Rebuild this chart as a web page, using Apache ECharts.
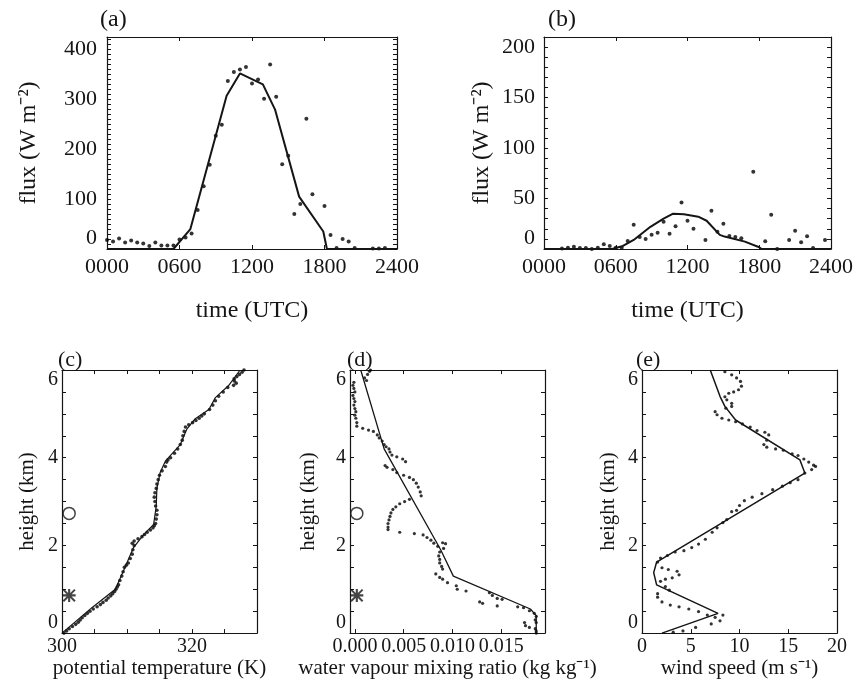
<!DOCTYPE html>
<html>
<head>
<meta charset="utf-8">
<script src="https://cdn.jsdelivr.net/npm/echarts@6/dist/echarts.min.js"></script>
<style>html,body{margin:0;background:#fff}#chart{width:856px;height:680px}</style>
</head>
<body>
<div id="chart"></div>
<script>
var FONT = 'Liberation Serif';
var INK = '#151515';

// (a) flux, observed (dots) and model (line); time in hours
var aTime = [0,0.5,1,1.5,2,2.5,3,3.5,4,4.5,5,5.5,6,6.5,7,7.5,8,8.5,9,9.5,10,10.5,11,11.5,12,12.5,13,13.5,14,14.5,15,15.5,16,16.5,17,18,18.5,19,19.5,20,20.5,22,22.5,23];
var aFlux = [18,15,21,13,17,13,11,6,13,7,7,7,19,23,31,78,126,169,227,249,337,355,360,365,332,340,301,370,305,170,187,70,90,261,110,86,28,2,20,15,2,1,1,2];
var aModelTime = [0,5.5,6.9,9.9,11,12.9,13.9,15.9,17.9,18.2,24];
var aModelFlux = [0,0,40,307,352,330,280,105,35,0,0];

// (b) flux, observed and model
var bTime = [1.5,2,2.5,3,3.5,4,4.5,5,5.5,6,6.5,7,7.5,8,8.5,9,9.5,10,10.5,11,11.5,12,12.5,13.5,14,14.5,15,15.5,16,16.5,17.5,18.5,19,19.5,20.5,21,21.5,22,22.5,23.5];
var bFlux = [0.5,1.3,2.3,1,1,0,1.3,4.6,3,1.3,1.3,8,24,12,10,14,16,27,15,22.5,46,28,20,9,38,17,25,13,12,10.6,76.5,7.6,34,0,9,18,6.6,12.6,1,9];
var bModelTime = [0,5.7,6.6,7.5,8.9,10,10.8,11.7,12.9,13.6,14.7,15.1,16.8,18,18.2,24];
var bModelFlux = [0,0,3,9,22,30,35,34.5,32,28,14,12.3,7.3,1.7,0,0];

// (c) potential temperature profile
var cObsHeight = [0,0.05,0.1,0.15,0.2,0.25,0.3,0.35,0.4,0.45,0.5,0.55,0.6,0.65,0.7,0.75,0.8,0.85,0.9,0.95,1,1.05,1.1,1.2,1.3,1.4,1.5,1.55,1.6,1.7,1.8,1.9,2,2.05,2.1,2.15,2.2,2.25,2.3,2.35,2.4,2.45,2.5,2.6,2.7,2.8,2.9,3,3.1,3.2,3.3,3.4,3.5,3.6,3.7,3.8,3.9,3.95,4,4.1,4.2,4.3,4.4,4.5,4.6,4.7,4.75,4.8,4.85,4.9,4.95,5,5.1,5.2,5.3,5.4,5.5,5.6,5.65,5.7,5.75,5.8,5.85,5.9,5.95,6];
var cObsTheta = [300.3,300.7,301.1,301.6,302.1,302.5,302.8,303.1,303.5,303.9,304.3,304.8,305.4,305.9,306.3,306.8,307.1,307.5,307.8,308.1,308.3,308.5,308.7,308.9,309.2,309.4,309.6,309.9,310.2,310.5,310.8,310.9,311.1,310.8,311.1,311.7,312.3,312.7,313.1,313.6,314.0,314.2,314.4,314.5,314.6,314.6,314.4,314.3,314.2,314.3,314.5,314.6,314.8,315.0,315.4,315.9,316.1,316.3,316.7,317.3,317.8,318.2,318.5,318.6,318.8,319.0,319.5,320.1,320.6,321.1,321.5,321.9,322.7,323.2,323.6,324.1,324.8,325.5,326.4,326.8,326.5,326.5,326.9,327.3,327.7,328.0];
var cModelTheta = [300,304.6,308.2,309.7,311.0,312.6,314.1,314.5,314.6,315.1,315.9,318.2,319.2,320.5,322.6,323.6,325.6,327.4];
var cModelHeight = [0,0.58,1.0,1.5,1.95,2.25,2.48,2.9,3.3,3.66,3.92,4.3,4.65,4.89,5.1,5.37,5.64,6.0];

// (d) water vapour mixing ratio profile
var dObsQ = [0.0016,0.0015,0.0013,0.0010,0.0012,-0.0001,-0.0002,-0.0001,0.0000,-0.0002,-0.0001,0.0000,-0.0001,0.0000,0.0001,0.0000,0.0001,0.0002,0.0002,0.0008,0.0014,0.0019,0.0023,0.0025,0.0028,0.0030,0.0032,0.0035,0.0036,0.0038,0.0043,0.0049,0.0052,0.0031,0.0033,0.0039,0.0043,0.0050,0.0056,0.0060,0.0063,0.0065,0.0067,0.0068,0.0056,0.0051,0.0046,0.0042,0.0039,0.0037,0.0036,0.0035,0.0034,0.0034,0.0034,0.0046,0.0061,0.0070,0.0074,0.0078,0.0081,0.0085,0.0090,0.0093,0.0091,0.0087,0.0086,0.0087,0.0087,0.0089,0.0090,0.0083,0.0087,0.0090,0.0095,0.0104,0.0105,0.0114,0.0128,0.0131,0.0138,0.0141,0.0146,0.0151,0.0146,0.0167,0.0173,0.0179,0.0184,0.0186,0.0185,0.0186,0.0174,0.0175,0.0179,0.0185,0.0186,0.0186];
var dObsHeight = [6.0,5.97,5.9,5.82,5.76,5.72,5.65,5.58,5.5,5.42,5.35,5.28,5.2,5.12,5.05,4.97,4.9,4.8,4.72,4.67,4.63,4.6,4.52,4.45,4.38,4.3,4.25,4.2,4.13,4.06,4.02,3.97,3.91,3.82,3.78,3.73,3.66,3.6,3.55,3.5,3.42,3.33,3.22,3.13,3.05,3.0,2.95,2.88,2.82,2.74,2.66,2.58,2.5,2.42,2.36,2.3,2.27,2.24,2.18,2.12,2.05,1.98,2.06,2.04,1.93,1.85,1.76,1.68,1.6,1.52,1.46,1.35,1.27,1.23,1.15,1.08,1.0,0.96,0.71,0.68,0.92,0.86,0.79,0.77,0.62,0.6,0.58,0.51,0.45,0.38,0.3,0.24,0.24,0.17,0.13,0.1,0.05,0.0];
var dModelQ = [0.0006,0.0030,0.0088,0.0101,0.0180,0.0186,0.0186];
var dModelHeight = [6.0,4.2,1.9,1.3,0.55,0.4,0];

// (e) wind speed profile
var eObsSpeed = [8.5,9.2,9.7,10.1,10.2,9.9,9.4,8.9,8.5,8.7,9.2,9.2,8.6,7.5,7.7,8.2,8.9,9.6,10.3,11.1,11.8,12.6,13.0,12.8,12.5,12.8,13.7,14.5,15.4,16.0,16.6,17.1,17.6,17.8,17.4,16.7,16.0,15.2,14.4,13.4,12.3,11.3,10.5,10.0,9.7,9.2,8.7,8.3,7.7,7.2,6.5,5.8,5.1,4.3,3.4,2.6,1.9,1.6,2.05,2.7,3.6,3.8,3.1,2.4,1.9,2.4,2.8,1.6,1.6,2.05,2.9,3.8,4.8,5.8,6.7,7.5,8.0,8.3,7.1,5.5,4.2,3.2];
var eObsHeight = [5.96,5.89,5.82,5.74,5.63,5.55,5.5,5.47,5.39,5.32,5.24,5.17,5.13,5.05,4.98,4.9,4.86,4.82,4.77,4.7,4.62,4.58,4.52,4.4,4.3,4.24,4.2,4.17,4.09,4.05,3.97,3.9,3.83,3.8,3.73,3.65,3.5,3.43,3.35,3.27,3.18,3.1,3.02,2.91,2.8,2.77,2.59,2.52,2.4,2.3,2.14,2.03,1.95,1.88,1.85,1.77,1.71,1.62,1.49,1.45,1.41,1.33,1.26,1.23,1.18,1.06,0.98,0.9,0.82,0.71,0.64,0.6,0.55,0.49,0.41,0.36,0.28,0.41,0.21,0.13,0.05,0.02];
var eModelSpeed = [2.05,7.8,1.5,1.2,1.5,16.7,16.2,9.6,8.5,8.0,7.0];
var eModelHeight = [0,0.45,1.1,1.38,1.62,3.65,3.95,4.86,5.17,5.4,6.0];

// circle and asterisk heights shown in (c) and (d)
var markHeights = [2.73, 0.86];
var cMarkTheta = 301.1;
var dMarkQ = 0.0002;

var ASTERISK = 'path://M0,4.2L10,4.2L10,5.8L0,5.8Z M4.2,0L5.8,0L5.8,10L4.2,10Z M1.1,0L10,8.9L8.9,10L0,1.1Z M8.9,0L10,1.1L1.1,10L0,8.9Z';

function zip(xs, ys) {
  return xs.map(function (x, i) { return [x, ys[i]]; });
}

function timeFmt(v) {
  var s = String(Math.round(v * 100));
  while (s.length < 4) s = '0' + s;
  return s;
}

// bottom/left axis with labels plus a bare twin on top/right, MATLAB-like box
function axisPair(dim, gi, c) {
  var base = {
    type: 'value', gridIndex: gi, min: c.min, max: c.max,
    axisLine: { onZero: false, lineStyle: { color: INK, width: 1.2 } },
    axisTick: { inside: true, length: 4, lineStyle: { color: INK, width: 1 } },
    splitLine: { show: false }
  };
  if (c.interval != null) base.interval = c.interval;
  if (c.ticks) base.axisTick.customValues = c.ticks;
  var label = {
    fontFamily: FONT, fontSize: c.fs, color: INK, margin: c.margin, formatter: c.fmt
  };
  if (c.labels) label.customValues = c.labels;
  if (dim === 'y') {
    label.verticalAlignMinLabel = 'bottom';
    if (c.topAlign) label.verticalAlignMaxLabel = 'top';
  }
  var main = Object.assign({}, base, {
    position: dim === 'x' ? 'bottom' : 'left',
    axisLabel: label,
    name: c.name, nameLocation: 'middle', nameGap: c.gap,
    nameTextStyle: { fontFamily: FONT, fontSize: c.nfs, color: INK }
  });
  var twin = Object.assign({}, base, {
    position: dim === 'x' ? 'top' : 'right',
    axisLabel: { show: false }
  });
  return [main, twin];
}

var grids = [
  { left: 107, top: 37, width: 290, height: 212 },
  { left: 544, top: 37, width: 288, height: 212 },
  { left: 62, top: 370, width: 195, height: 264 },
  { left: 350, top: 370, width: 195, height: 264 },
  { left: 642, top: 370, width: 195, height: 264 }
];

var xAxes = [], yAxes = [];
function addAxes(list, pair) { list.push(pair[0], pair[1]); }

var timeX = { min: 0, max: 24, interval: 6, fmt: timeFmt, fs: 22, margin: 7, name: 'time (UTC)', gap: 50, nfs: 24 };
addAxes(xAxes, axisPair('x', 0, timeX));
addAxes(xAxes, axisPair('x', 1, timeX));
addAxes(xAxes, axisPair('x', 2, {
  min: 300, max: 330, interval: 5, fs: 20, margin: 4, nfs: 21, gap: 21,
  name: 'potential temperature (K)',
  fmt: function (v) { return (v === 300 || v === 320) ? String(v) : ''; }
}));
addAxes(xAxes, axisPair('x', 3, {
  min: -0.0005, max: 0.0195, fs: 20, margin: 4, nfs: 21, gap: 21,
  labels: [0, 0.005, 0.01, 0.015], ticks: [0, 0.005, 0.01, 0.015],
  name: 'water vapour mixing ratio (kg kg⁻¹)',
  fmt: function (v) { return v.toFixed(3); }
}));
addAxes(xAxes, axisPair('x', 4, {
  min: 0, max: 20, interval: 5, fs: 20, margin: 4, nfs: 21, gap: 21,
  name: 'wind speed (m s⁻¹)'
}));

addAxes(yAxes, axisPair('y', 0, {
  min: 0, max: 425, interval: 10, fs: 22, margin: 10, nfs: 24, gap: 66,
  name: 'flux (W m⁻²)',
  fmt: function (v) { return v % 100 === 0 ? String(v) : ''; }
}));
addAxes(yAxes, axisPair('y', 1, {
  min: 0, max: 210, interval: 10, fs: 22, margin: 9, nfs: 24, gap: 50,
  name: 'flux (W m⁻²)',
  fmt: function (v) { return v % 50 === 0 ? String(v) : ''; }
}));
var heightY = {
  min: 0, max: 6, interval: 0.5, fs: 20, margin: 4, nfs: 21, topAlign: true,
  name: 'height (km)',
  fmt: function (v) { return v % 2 === 0 ? String(v) : ''; }
};
addAxes(yAxes, axisPair('y', 2, Object.assign({}, heightY, { gap: 24 })));
addAxes(yAxes, axisPair('y', 3, Object.assign({}, heightY, { gap: 31 })));
addAxes(yAxes, axisPair('y', 4, Object.assign({}, heightY, { gap: 23 })));

function dots(gi, data, size) {
  return { type: 'scatter', xAxisIndex: 2 * gi, yAxisIndex: 2 * gi, data: data,
    symbol: 'circle', symbolSize: size, itemStyle: { color: '#000' }, silent: true };
}
function curve(gi, data, w) {
  return { type: 'line', xAxisIndex: 2 * gi, yAxisIndex: 2 * gi, data: data,
    showSymbol: false, symbol: 'none', lineStyle: { color: INK, width: w }, silent: true };
}
function marks(gi, x) {
  return [
    { type: 'scatter', xAxisIndex: 2 * gi, yAxisIndex: 2 * gi, data: [[x, markHeights[0]]],
      symbol: 'circle', symbolSize: 12, itemStyle: { color: '#fff', borderColor: INK, borderWidth: 1.5 }, silent: true },
    { type: 'scatter', xAxisIndex: 2 * gi, yAxisIndex: 2 * gi, data: [[x, markHeights[1]]],
      symbol: ASTERISK, symbolSize: 13, itemStyle: { color: INK }, silent: true }
  ];
}

var series = [
  dots(0, zip(aTime, aFlux), 4),
  curve(0, zip(aModelTime, aModelFlux), 2),
  dots(1, zip(bTime, bFlux), 4),
  curve(1, zip(bModelTime, bModelFlux), 2),
  curve(2, zip(cModelTheta, cModelHeight), 1.2),
  dots(2, zip(cObsTheta, cObsHeight), 3.6),
  curve(3, zip(dModelQ, dModelHeight), 1.3),
  dots(3, zip(dObsQ, dObsHeight), 3.2),
  curve(4, zip(eModelSpeed, eModelHeight), 1.5),
  dots(4, zip(eObsSpeed, eObsHeight), 3.2)
].concat(marks(2, cMarkTheta), marks(3, dMarkQ));

function panelLabel(text, left, top, size) {
  return { type: 'text', left: left, top: top,
    style: { text: text, fill: INK, font: size + 'px "' + FONT + '"' } };
}

var chart = echarts.init(document.getElementById('chart'));
chart.setOption({
  animation: false,
  backgroundColor: '#fff',
  grid: grids,
  xAxis: xAxes,
  yAxis: yAxes,
  series: series,
  graphic: [
    panelLabel('(a)', 100, 8, 24),
    panelLabel('(b)', 548, 8, 24),
    panelLabel('(c)', 58, 349, 22),
    panelLabel('(d)', 347, 349, 22),
    panelLabel('(e)', 636, 349, 22)
  ]
});
</script>
</body>
</html>
